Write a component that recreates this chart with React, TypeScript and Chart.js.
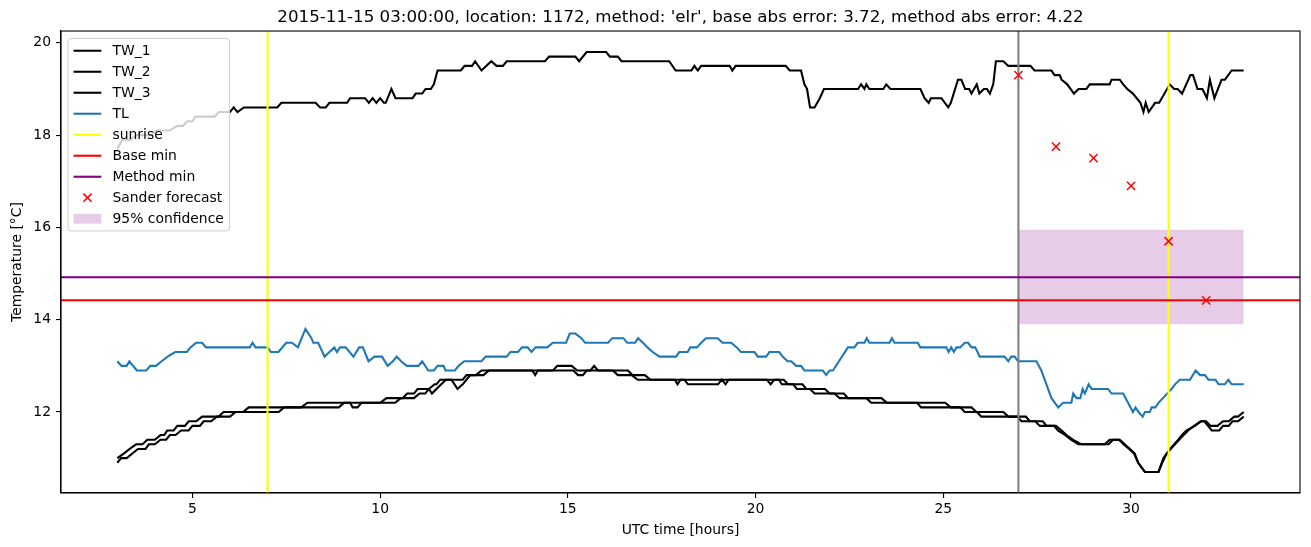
import React, { useEffect, useRef } from 'react';
import { Chart, registerables } from 'chart.js';

Chart.register(...registerables);

type Pt = [number, number];

// ---- data (hours since 2015-11-15 00:00 UTC, °C) ----
const tw1: Pt[] = [
  [3.0, 17.7], [3.13, 17.9], [3.35, 17.9], [3.5, 18.0], [3.9, 18.0], [4.05, 18.1], [4.4, 18.1], [4.6, 18.2], [4.75, 18.2],
  [4.86, 18.3], [5.0, 18.3], [5.08, 18.4], [5.6, 18.4], [5.7, 18.5], [6.0, 18.5], [6.1, 18.6], [6.2, 18.5], [6.37, 18.6],
  [7.26, 18.6], [7.37, 18.7], [8.28, 18.7], [8.4, 18.6], [8.55, 18.6], [8.65, 18.7], [9.12, 18.7], [9.2, 18.8], [9.6, 18.8],
  [9.7, 18.7], [9.8, 18.8], [9.9, 18.7], [10.0, 18.8], [10.1, 18.7], [10.15, 18.7], [10.3, 19.0], [10.41, 18.8], [10.86, 18.8],
  [10.95, 18.9], [11.12, 18.9], [11.21, 19.0], [11.35, 19.0], [11.43, 19.1], [11.53, 19.4], [12.15, 19.4], [12.25, 19.5],
  [12.45, 19.5], [12.53, 19.6], [12.7, 19.4], [12.96, 19.6], [13.1, 19.5], [13.27, 19.5], [13.37, 19.6], [14.39, 19.6],
  [14.5, 19.7], [15.2, 19.7], [15.3, 19.6], [15.5, 19.8], [16.02, 19.8], [16.12, 19.7], [16.33, 19.7], [16.43, 19.6],
  [17.7, 19.6], [17.87, 19.4], [18.29, 19.4], [18.37, 19.5], [18.46, 19.4], [18.55, 19.5], [19.31, 19.5], [19.38, 19.4],
  [19.47, 19.5], [20.8, 19.5], [20.91, 19.4], [21.21, 19.4], [21.3, 19.1], [21.37, 19.0], [21.45, 18.6], [21.57, 18.6],
  [21.71, 18.8], [21.82, 19.0], [22.73, 19.0], [22.81, 19.1], [22.9, 19.0], [22.95, 19.1], [23.03, 19.0], [23.4, 19.0],
  [23.48, 19.1], [23.59, 19.0], [24.39, 19.0], [24.5, 18.8], [24.61, 18.7], [24.67, 18.8], [24.95, 18.8], [25.13, 18.6],
  [25.2, 18.7], [25.39, 19.2], [25.48, 19.2], [25.58, 19.0], [25.69, 19.0], [25.75, 18.9], [25.89, 19.1], [25.96, 18.9],
  [26.08, 19.0], [26.16, 19.0], [26.24, 18.9], [26.33, 19.1], [26.4, 19.6], [26.6, 19.6], [26.73, 19.5], [27.32, 19.5],
  [27.43, 19.4], [27.88, 19.4], [27.96, 19.3], [28.1, 19.3], [28.15, 19.2], [28.3, 19.1], [28.48, 18.9], [28.6, 19.0],
  [28.81, 19.0], [28.9, 19.1], [29.43, 19.1], [29.48, 19.2], [29.7, 19.2], [29.79, 19.1], [29.9, 19.0], [30.05, 18.9],
  [30.25, 18.7], [30.33, 18.5], [30.39, 18.7], [30.47, 18.5], [30.64, 18.7], [30.75, 18.7], [31.03, 19.1], [31.15, 19.0],
  [31.24, 19.0], [31.36, 18.9], [31.58, 19.3], [31.65, 19.3], [31.77, 19.0], [31.9, 19.0], [31.96, 18.9], [32.02, 18.8],
  [32.1, 19.2], [32.22, 18.8], [32.41, 19.2], [32.5, 19.2], [32.68, 19.4], [33.0, 19.4],
];

const tw2: Pt[] = [
  [3.0, 11.0], [3.17, 11.1], [3.33, 11.2], [3.5, 11.3], [3.67, 11.3], [3.8, 11.4], [4.0, 11.4], [4.15, 11.5], [4.25, 11.5],
  [4.33, 11.6], [4.5, 11.6], [4.6, 11.7], [4.8, 11.7], [4.9, 11.8], [5.1, 11.8], [5.26, 11.9], [5.7, 11.9], [5.83, 12.0],
  [6.35, 12.0], [6.5, 12.1], [7.9, 12.1], [8.06, 12.2], [10.0, 12.2], [10.17, 12.3], [10.6, 12.3], [10.72, 12.4],
  [10.9, 12.4], [11.0, 12.5], [11.3, 12.5], [11.45, 12.6], [11.5, 12.6], [11.6, 12.7], [12.2, 12.7], [12.3, 12.8],
  [12.55, 12.8], [12.7, 12.9], [14.6, 12.9], [14.72, 13.0], [15.1, 13.0], [15.25, 12.9], [16.2, 12.9], [16.33, 12.8],
  [16.7, 12.8], [16.86, 12.7], [20.75, 12.7], [20.86, 12.6], [21.25, 12.6], [21.35, 12.5], [21.85, 12.5], [21.97, 12.4],
  [22.35, 12.4], [22.46, 12.3], [23.35, 12.3], [23.5, 12.2], [25.05, 12.2], [25.2, 12.1], [25.75, 12.1], [25.88, 12.0],
  [26.6, 12.0], [26.73, 11.9], [27.2, 11.9], [27.3, 11.8], [27.65, 11.8], [27.75, 11.7], [28.0, 11.7], [28.15, 11.6],
  [28.28, 11.5], [28.45, 11.4], [28.68, 11.3], [29.3, 11.3], [29.43, 11.4], [29.7, 11.4], [29.83, 11.3], [29.97, 11.2],
  [30.1, 11.1], [30.19, 10.9], [30.28, 10.8], [30.37, 10.7], [30.73, 10.7], [30.86, 11.0], [30.95, 11.1], [31.04, 11.2],
  [31.15, 11.3], [31.26, 11.4], [31.35, 11.5], [31.48, 11.6], [31.7, 11.7], [31.88, 11.8], [32.0, 11.8], [32.12, 11.7],
  [32.3, 11.7], [32.45, 11.8], [32.6, 11.8], [32.75, 11.9], [32.85, 11.9], [33.0, 12.0],
];

const tw3: Pt[] = [
  [3.0, 10.9], [3.1, 11.0], [3.25, 11.0], [3.4, 11.1], [3.55, 11.2], [3.75, 11.2], [3.84, 11.3], [4.0, 11.3], [4.15, 11.4],
  [4.3, 11.4], [4.4, 11.5], [4.55, 11.5], [4.7, 11.6], [4.9, 11.6], [5.0, 11.7], [5.2, 11.7], [5.3, 11.8], [5.5, 11.8],
  [5.65, 11.9], [6.0, 11.9], [6.15, 12.0], [7.3, 12.0], [7.44, 12.1], [8.9, 12.1], [9.04, 12.2], [9.2, 12.2], [9.27, 12.1],
  [9.4, 12.1], [9.5, 12.2], [10.4, 12.2], [10.55, 12.3], [10.9, 12.3], [11.05, 12.4], [11.2, 12.4], [11.3, 12.5],
  [11.38, 12.4], [11.5, 12.5], [11.75, 12.7], [11.9, 12.7], [12.06, 12.5], [12.2, 12.6], [12.4, 12.8], [12.75, 12.8],
  [12.9, 12.9], [14.05, 12.9], [14.13, 12.8], [14.2, 12.9], [15.15, 12.9], [15.27, 12.8], [15.4, 12.8], [15.5, 12.9],
  [15.6, 12.9], [15.7, 13.0], [15.8, 12.9], [16.6, 12.9], [16.72, 12.8], [17.05, 12.8], [17.2, 12.7], [17.85, 12.7],
  [17.92, 12.6], [18.0, 12.7], [18.1, 12.7], [18.2, 12.6], [19.0, 12.6], [19.1, 12.7], [19.2, 12.6], [19.28, 12.7],
  [20.3, 12.7], [20.4, 12.6], [20.5, 12.7], [20.62, 12.7], [20.7, 12.6], [21.0, 12.6], [21.1, 12.5], [21.45, 12.5],
  [21.57, 12.4], [22.1, 12.4], [22.24, 12.3], [22.95, 12.3], [23.08, 12.2], [24.3, 12.2], [24.41, 12.1], [25.45, 12.1],
  [25.57, 12.0], [25.9, 12.0], [26.01, 11.9], [26.97, 11.9], [27.08, 11.8], [27.45, 11.8], [27.57, 11.7], [27.95, 11.7],
  [28.05, 11.6], [28.25, 11.5], [28.4, 11.4], [28.6, 11.3], [29.4, 11.3], [29.52, 11.4], [29.68, 11.4], [29.8, 11.3],
  [29.95, 11.2], [30.08, 11.1], [30.19, 10.9], [30.28, 10.8], [30.37, 10.7], [30.73, 10.7], [30.83, 10.9], [30.95, 11.1],
  [31.06, 11.2], [31.17, 11.3], [31.28, 11.4], [31.4, 11.5], [31.52, 11.6], [31.68, 11.7], [31.85, 11.8], [31.95, 11.8],
  [32.05, 11.7], [32.15, 11.6], [32.35, 11.6], [32.45, 11.7], [32.6, 11.7], [32.7, 11.8], [32.85, 11.8], [33.0, 11.9],
];

const tl: Pt[] = [
  [3.0, 13.1], [3.11, 13.0], [3.25, 13.0], [3.32, 13.1], [3.52, 12.9], [3.77, 12.9], [3.88, 13.0], [4.03, 13.0], [4.18, 13.1],
  [4.34, 13.2], [4.54, 13.3], [4.85, 13.3], [4.95, 13.4], [5.1, 13.5], [5.26, 13.5], [5.36, 13.4], [6.53, 13.4], [6.6, 13.5],
  [6.68, 13.4], [7.0, 13.4], [7.09, 13.3], [7.29, 13.3], [7.5, 13.5], [7.65, 13.5], [7.81, 13.4], [8.01, 13.8], [8.17, 13.6],
  [8.22, 13.5], [8.35, 13.5], [8.52, 13.2], [8.65, 13.3], [8.78, 13.4], [8.85, 13.3], [8.93, 13.4], [9.08, 13.4], [9.29, 13.2],
  [9.44, 13.4], [9.54, 13.4], [9.69, 13.1], [9.85, 13.2], [10.05, 13.2], [10.2, 13.0], [10.34, 13.1], [10.44, 13.2],
  [10.56, 13.1], [10.71, 13.0], [11.02, 13.0], [11.12, 13.1], [11.28, 12.9], [11.43, 12.9], [11.53, 13.0], [11.69, 13.0],
  [11.74, 12.9], [11.99, 12.9], [12.09, 13.0], [12.24, 13.1], [12.7, 13.1], [12.81, 13.2], [13.37, 13.2], [13.47, 13.3],
  [13.67, 13.3], [13.78, 13.4], [13.93, 13.4], [14.03, 13.3], [14.14, 13.4], [14.45, 13.4], [14.6, 13.5], [14.95, 13.5],
  [15.05, 13.7], [15.2, 13.7], [15.36, 13.6], [15.46, 13.5], [16.07, 13.5], [16.18, 13.6], [16.48, 13.6], [16.58, 13.5],
  [16.79, 13.5], [16.87, 13.6], [17.0, 13.5], [17.12, 13.4], [17.26, 13.3], [17.44, 13.2], [17.88, 13.2], [17.97, 13.3],
  [18.19, 13.3], [18.26, 13.4], [18.44, 13.4], [18.55, 13.5], [18.68, 13.6], [18.99, 13.6], [19.12, 13.5], [19.35, 13.5],
  [19.5, 13.4], [19.61, 13.3], [19.97, 13.3], [20.06, 13.2], [20.28, 13.2], [20.37, 13.3], [20.63, 13.3], [20.72, 13.2],
  [20.85, 13.1], [20.95, 13.1], [21.08, 13.0], [21.21, 13.0], [21.3, 12.9], [21.79, 12.9], [21.88, 12.8], [21.97, 12.9],
  [22.06, 12.9], [22.46, 13.4], [22.63, 13.4], [22.72, 13.5], [22.9, 13.5], [22.96, 13.6], [23.03, 13.5], [23.57, 13.5],
  [23.63, 13.6], [23.7, 13.5], [24.32, 13.5], [24.39, 13.4], [25.08, 13.4], [25.14, 13.3], [25.21, 13.4], [25.28, 13.3],
  [25.35, 13.4], [25.45, 13.4], [25.57, 13.5], [25.66, 13.5], [25.75, 13.4], [25.85, 13.4], [25.97, 13.2], [26.63, 13.2],
  [26.73, 13.1], [26.81, 13.2], [26.9, 13.2], [26.99, 13.1], [27.48, 13.1], [27.61, 12.9], [27.7, 12.7], [27.88, 12.3],
  [28.06, 12.1], [28.19, 12.2], [28.41, 12.2], [28.46, 12.4], [28.55, 12.3], [28.65, 12.3], [28.71, 12.5], [28.77, 12.4],
  [28.87, 12.6], [28.95, 12.5], [29.39, 12.5], [29.48, 12.4], [29.79, 12.4], [29.92, 12.2], [30.05, 12.0], [30.12, 12.1],
  [30.2, 12.0], [30.31, 11.9], [30.37, 12.0], [30.5, 12.0], [30.55, 12.1], [30.65, 12.1], [30.73, 12.2], [31.08, 12.5],
  [31.17, 12.6], [31.3, 12.7], [31.57, 12.7], [31.72, 12.9], [31.84, 12.8], [31.97, 12.8], [32.06, 12.7], [32.25, 12.7],
  [32.33, 12.6], [32.5, 12.6], [32.59, 12.7], [32.68, 12.6], [33.0, 12.6],
];

const sunriseHours = [7, 31];
const issueHour = 27;
const baseMin = 14.42;
const methodMin = 14.92;
const forecastHours = [27, 28, 29, 30, 31, 32];
const forecastValues = [19.3, 17.75, 17.5, 16.9, 15.7, 14.42];
const confidenceHours = [27, 33];
const confidenceLow = 13.9;
const confidenceHigh = 15.95;

const xLimits = [1.5, 34.5];
const yLimits = [10.245, 20.255];
const xTicks = [5, 10, 15, 20, 25, 30];
const yTicks = [12, 14, 16, 18, 20];

const titleText =
  "2015-11-15 03:00:00, location: 1172, method: 'elr', base abs error: 3.72, method abs error: 4.22";
const xLabel = 'UTC time [hours]';
const yLabel = 'Temperature [°C]';
const legendLabels = ['TW_1', 'TW_2', 'TW_3', 'TL', 'sunrise', 'Base min', 'Method min', 'Sander forecast', '95% confidence'];

const FONT = "'DejaVu Sans', 'Liberation Sans', sans-serif";
const FS = 13.9;
const LW = 2.08;

const toXY = (pts: Pt[]) => pts.map(([x, y]) => ({ x, y }));

const frameLegendPlugin = {
  id: 'mplFrameLegend',
  afterDatasetsDraw(chart: any) {
    const { ctx, chartArea: ca } = chart;
    ctx.save();
    ctx.strokeStyle = '#000';
    ctx.lineWidth = 1.1;
    ctx.strokeRect(ca.left, ca.top, ca.right - ca.left, ca.bottom - ca.top);
    ctx.restore();
  },
  afterDraw(chart: any) {
    const { ctx, chartArea: ca } = chart;
    ctx.save();
    ctx.font = `${FS}px ${FONT}`;
    const pad = 0.4 * FS;
    const handleLen = 2 * FS;
    const handlePad = 0.8 * FS;
    const textW = Math.max(...legendLabels.map((l) => ctx.measureText(l).width));
    const left = ca.left + 7;
    const top = ca.top + 7.5;
    const rowH = 21;
    const firstOff = 12.2;
    const w = pad + handleLen + handlePad + textW + pad;
    const h = firstOff * 2 + rowH * (legendLabels.length - 1);
    // frame
    const r = 3;
    ctx.beginPath();
    ctx.moveTo(left + r, top);
    ctx.lineTo(left + w - r, top);
    ctx.quadraticCurveTo(left + w, top, left + w, top + r);
    ctx.lineTo(left + w, top + h - r);
    ctx.quadraticCurveTo(left + w, top + h, left + w - r, top + h);
    ctx.lineTo(left + r, top + h);
    ctx.quadraticCurveTo(left, top + h, left, top + h - r);
    ctx.lineTo(left, top + r);
    ctx.quadraticCurveTo(left, top, left + r, top);
    ctx.closePath();
    ctx.fillStyle = 'rgba(255,255,255,0.8)';
    ctx.fill();
    ctx.strokeStyle = '#cccccc';
    ctx.lineWidth = 1;
    ctx.stroke();

    legendLabels.forEach((label, i) => {
      const ds: any = chart.data.datasets.find((d: any) => d.label === label);
      const cy = top + firstOff + i * rowH;
      const hx0 = left + pad;
      const hx1 = hx0 + handleLen;
      if (ds) {
        if (ds.legendKind === 'marker') {
          const cx = (hx0 + hx1) / 2;
          const s = 4.1;
          ctx.strokeStyle = ds.borderColor;
          ctx.lineWidth = 1.5;
          ctx.beginPath();
          ctx.moveTo(cx - s, cy - s);
          ctx.lineTo(cx + s, cy + s);
          ctx.moveTo(cx - s, cy + s);
          ctx.lineTo(cx + s, cy - s);
          ctx.stroke();
        } else if (ds.legendKind === 'patch') {
          ctx.fillStyle = ds.backgroundColor;
          ctx.fillRect(hx0, cy - 0.35 * FS, handleLen, 0.7 * FS);
        } else {
          ctx.strokeStyle = ds.borderColor;
          ctx.lineWidth = LW;
          ctx.beginPath();
          ctx.moveTo(hx0, cy);
          ctx.lineTo(hx1, cy);
          ctx.stroke();
        }
      }
      ctx.fillStyle = '#000';
      ctx.textAlign = 'left';
      ctx.textBaseline = 'middle';
      ctx.fillText(label, hx1 + handlePad, cy + 0.5);
    });
    ctx.restore();
  },
};

export default function App() {
  const canvasRef = useRef<HTMLCanvasElement | null>(null);

  useEffect(() => {
    if (!canvasRef.current) return;
    Chart.defaults.font.family = FONT;
    Chart.defaults.color = '#000';

    const vLines = (hours: number[]) => {
      const out: any[] = [];
      hours.forEach((h, i) => {
        if (i > 0) out.push({ x: h - 0.5, y: null });
        out.push({ x: h, y: yLimits[0] }, { x: h, y: yLimits[1] });
      });
      return out;
    };
    const hLine = (v: number) => [
      { x: xLimits[0], y: v },
      { x: xLimits[1], y: v },
    ];
    const lineBase = { pointRadius: 0, pointHoverRadius: 0, borderWidth: LW, tension: 0, fill: false };

    const chart = new Chart(canvasRef.current, {
      type: 'line',
      data: {
        datasets: [
          { ...lineBase, label: 'TW_1', data: toXY(tw1), borderColor: '#000000', order: 20 },
          { ...lineBase, label: 'TW_2', data: toXY(tw2), borderColor: '#000000', order: 19 },
          { ...lineBase, label: 'TW_3', data: toXY(tw3), borderColor: '#000000', order: 18 },
          { ...lineBase, label: 'TL', data: toXY(tl), borderColor: '#1f77b4', order: 17 },
          { ...lineBase, label: 'sunrise', data: vLines(sunriseHours), borderColor: '#ffff00', order: 16, spanGaps: false },
          { ...lineBase, label: 'issue', data: vLines([issueHour]), borderColor: '#808080', order: 15 },
          { ...lineBase, label: 'Base min', data: hLine(baseMin), borderColor: '#ff0000', order: 14 },
          { ...lineBase, label: 'Method min', data: hLine(methodMin), borderColor: '#800080', order: 13 },
          {
            label: 'Sander forecast',
            legendKind: 'marker',
            data: forecastHours.map((x, i) => ({ x, y: forecastValues[i] })),
            showLine: false,
            pointStyle: 'crossRot',
            pointRadius: 5.8,
            pointHoverRadius: 5.8,
            pointBorderWidth: 1.5,
            borderColor: '#ff0000',
            backgroundColor: '#ff0000',
            order: 12,
          },
          {
            label: '95% confidence',
            legendKind: 'patch',
            data: confidenceHours.map((x) => ({ x, y: confidenceHigh })),
            pointRadius: 0,
            pointHoverRadius: 0,
            borderWidth: 0,
            borderColor: 'rgba(0,0,0,0)',
            backgroundColor: 'rgba(128,0,128,0.2)',
            fill: { value: confidenceLow },
            order: 100,
          },
        ] as any,
      },
      options: {
        animation: false,
        responsive: false,
        devicePixelRatio: 1,
        events: [],
        layout: { padding: { left: 0, right: 11, top: 0, bottom: 0 } },
        plugins: {
          legend: { display: false },
          tooltip: { enabled: false },
          title: {
            display: true,
            text: titleText,
            fullSize: false,
            color: '#000',
            font: { family: FONT, size: 16.7, weight: 'normal', lineHeight: 1.2 },
            padding: { top: 8, bottom: 3 },
          },
        },
        scales: {
          x: {
            type: 'linear',
            min: xLimits[0],
            max: xLimits[1],
            afterBuildTicks: (s: any) => {
              s.ticks = xTicks.map((v) => ({ value: v }));
            },
            afterFit: (s: any) => {
              s.height = 54;
            },
            ticks: { autoSkip: false, maxRotation: 0, padding: 3, color: '#000', font: { family: FONT, size: FS } },
            grid: { drawOnChartArea: false, drawTicks: true, tickLength: 5, color: '#000', lineWidth: 1.1 },
            border: { display: true, color: '#000', width: 1.1 },
            title: {
              display: true,
              text: xLabel,
              color: '#000',
              font: { family: FONT, size: FS },
              padding: { top: 0, bottom: 8 },
            },
          },
          y: {
            type: 'linear',
            min: yLimits[0],
            max: yLimits[1],
            afterBuildTicks: (s: any) => {
              s.ticks = yTicks.map((v) => ({ value: v }));
            },
            afterFit: (s: any) => {
              s.width = 61;
            },
            ticks: { autoSkip: false, padding: 5, color: '#000', font: { family: FONT, size: FS } },
            grid: { drawOnChartArea: false, drawTicks: true, tickLength: 5, color: '#000', lineWidth: 1.1 },
            border: { display: true, color: '#000', width: 1.1 },
            title: {
              display: true,
              text: yLabel,
              color: '#000',
              font: { family: FONT, size: FS },
              padding: { top: 9, bottom: 0 },
            },
          },
        },
      } as any,
      plugins: [frameLegendPlugin],
    });

    return () => chart.destroy();
  }, []);

  return (
    <div style={{ position: 'absolute', left: 0, top: 0, width: 1311, height: 547, background: '#fff' }}>
      <canvas ref={canvasRef} width={1311} height={547} style={{ display: 'block' }} />
    </div>
  );
}
